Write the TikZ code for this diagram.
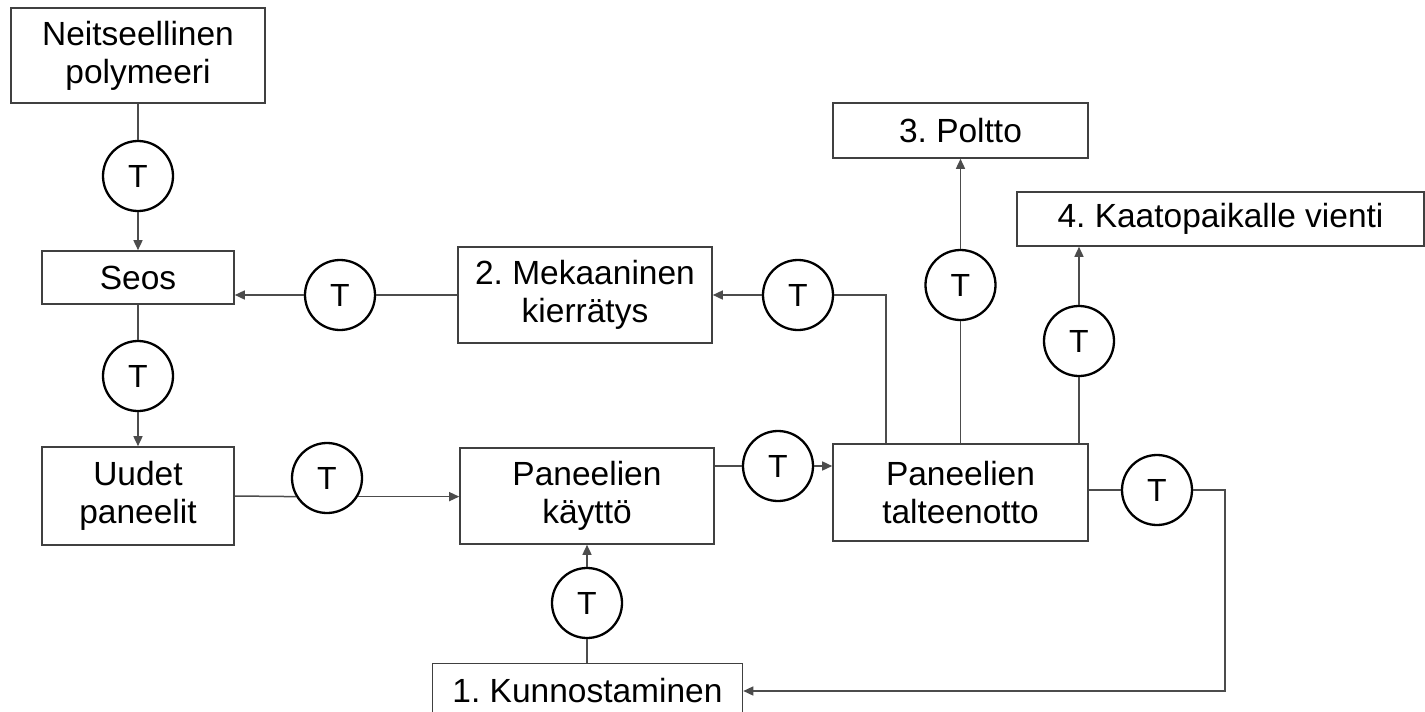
\documentclass[tikz,border=0pt]{standalone}
\usepackage{fontspec}
\setmainfont{Liberation Sans}
\usetikzlibrary{arrows.meta}
\frenchspacing
\begin{document}
\begin{tikzpicture}[x=1pt,y=-1pt,
  box/.style={draw=black!75, line width=1.6pt, fill=white, align=center,
    inner sep=0pt, font=\fontsize{33.5}{38}\selectfont},
  tnode/.style={draw=black, circle, line width=2.3pt, minimum size=70pt,
    inner sep=0pt, font=\fontsize{32}{36}\selectfont},
  conn/.style={draw=black!70, line width=1.5pt},
  arr/.style={conn, -{Triangle[length=10pt,width=9pt]}}]
\clip (0,0) rectangle (1425,712);
\fill[white] (0,0) rectangle (1425,712);

% process boxes
\node[box, minimum width=254pt, minimum height=95pt] (N) at (138,55.5) {Neitseellinen\\polymeeri};
\node[box, minimum width=192pt, minimum height=53pt] (Seos) at (138,277.5) {Seos};
\node[box, minimum width=192pt, minimum height=98pt] (Uudet) at (138,496) {Uudet\\paneelit};
\node[box, minimum width=254pt, minimum height=96pt] (Mek) at (585,295) {2. Mekaaninen\\kierrätys};
\node[box, minimum width=254pt, minimum height=96pt] (Kaytto) at (587,496) {Paneelien\\käyttö};
\node[box, minimum width=255pt, minimum height=97pt] (Talt) at (960.5,492.5) {Paneelien\\talteenotto};
\node[box, minimum width=255pt, minimum height=55pt] (Poltto) at (960.5,130.5) {3. Poltto};
\node[box, minimum width=407pt, minimum height=54pt] (Kaato) at (1220.5,219) {4. Kaatopaikalle vienti};
\node[box, minimum width=310pt, minimum height=55pt] (Kunn) at (587.5,691) {1. Kunnostaminen};

% transport circles
\node[tnode] (c1) at (138,176) {T};
\node[tnode] (c2) at (138,376) {T};
\node[tnode] (c3) at (340,295) {T};
\node[tnode] (c4) at (798,295) {T};
\node[tnode] (c5) at (327,478) {T};
\node[tnode] (c6) at (778,466) {T};
\node[tnode] (c7) at (960.5,285) {T};
\node[tnode] (c8) at (1079,341) {T};
\node[tnode] (c9) at (1157,490) {T};
\node[tnode] (c10) at (587,603) {T};

% bend points
\coordinate (j) at (886,295);
\coordinate (r) at (1225,490);
\coordinate (rb) at (1225,691);

% connectors
\draw[conn] (N) -- (c1);
\draw[arr] (c1) -- (Seos);
\draw[conn] (Seos) -- (c2);
\draw[arr] (c2) -- (Uudet);

\draw[conn] (Mek) -- (c3);
\draw[arr] (c3) -- (c3 -| Seos.east);

\draw[conn] (Uudet.east) -- (c5.-149);
\draw[arr] (c5.-31) -- (c5.-31 -| Kaytto.west);

\draw[conn] (c6 -| Kaytto.east) -- (c6);
\draw[arr] (c6) -- (c6 -| Talt.west);

\draw[conn] (Talt.north -| j) -- (j) -- (c4);
\draw[arr] (c4) -- (Mek);

\draw[conn] (Talt.north) -- (c7);
\draw[arr] (c7) -- (Poltto);

\draw[conn] (Talt.north -| c8) -- (c8);
\draw[arr] (c8) -- (c8 |- Kaato.south);

\draw[conn] (c9 -| Talt.east) -- (c9);
\draw[arr] (c9) -- (r) -- (rb) -- (Kunn);

\draw[conn] (Kunn.north -| c10) -- (c10);
\draw[arr] (c10) -- (Kaytto);
\end{tikzpicture}
\end{document}
